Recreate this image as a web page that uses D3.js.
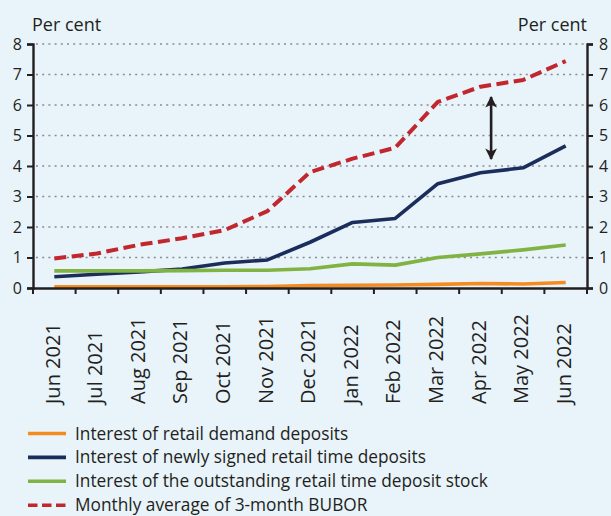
<!DOCTYPE html>
<html>
<head>
<meta charset="utf-8">
<script src="https://cdn.jsdelivr.net/npm/d3@7/dist/d3.min.js"></script>
<style>
  html, body { margin: 0; padding: 0; background: #e8f3fa; }
  svg { display: block; font-family: "Open Sans", sans-serif; }
</style>
</head>
<body>
<div id="chart"></div>
<script>
// months on the x axis
var months = ["Jun 2021", "Jul 2021", "Aug 2021", "Sep 2021", "Oct 2021", "Nov 2021",
  "Dec 2021", "Jan 2022", "Feb 2022", "Mar 2022", "Apr 2022", "May 2022", "Jun 2022"];

// series, per cent
var demandDeposits = [0.04, 0.04, 0.04, 0.04, 0.04, 0.05, 0.08, 0.09, 0.1, 0.12, 0.15, 0.13, 0.18];
var newTimeDeposits = [0.37, 0.45, 0.53, 0.62, 0.82, 0.92, 1.5, 2.15, 2.28, 3.42, 3.78, 3.94, 4.66];
var stockTimeDeposits = [0.56, 0.56, 0.56, 0.57, 0.58, 0.58, 0.63, 0.79, 0.75, 1.0, 1.12, 1.25, 1.41];
var bubor = [0.97, 1.13, 1.42, 1.63, 1.9, 2.52, 3.8, 4.24, 4.6, 6.1, 6.6, 6.82, 7.44];

var yTicks = [0, 1, 2, 3, 4, 5, 6, 7, 8];

var legendLabels = ["Interest of retail demand deposits",
  "Interest of newly signed retail time deposits",
  "Interest of the outstanding retail time deposit stock",
  "Monthly average of 3-month BUBOR"];

// double arrow showing the gap (April 2022)
var arrowMonth = "Apr 2022";
var arrowTop = 6.26;
var arrowBottom = 4.23;

drawChart();

function drawChart()
{
  var width = 611;
  var height = 516;
  var plotLeft = 33, plotRight = 587, plotTop = 44, plotBottom = 288;

  var colors = ["#f58a1f", "#1b2d5b", "#80b341", "#c1272d"];

  var svg = d3.select("#chart")
    .append("svg")
    .attr("width", width)
    .attr("height", height);

  var xScale = d3.scaleBand()
    .domain(months)
    .range([plotLeft, plotRight])
    .paddingInner(0)
    .paddingOuter(0);

  var yScale = d3.scaleLinear()
    .domain([0, 8])
    .range([plotBottom, plotTop]);

  // dotted gridlines
  svg.append("g")
    .selectAll("line")
    .data(yTicks.filter(function(d){ return d > 0; }))
    .enter()
    .append("line")
    .attr("x1", plotLeft + 3)
    .attr("x2", plotRight - 3)
    .attr("y1", function(d){ return yScale(d); })
    .attr("y2", function(d){ return yScale(d); })
    .attr("stroke", "#8a8d90")
    .attr("stroke-width", 1.6)
    .attr("stroke-dasharray", "2,4.2");

  // series lines
  var line = d3.line()
    .x(function(d, i){ return xScale(months[i]) + xScale.bandwidth() / 2; })
    .y(function(d){ return yScale(d); });

  var series = [demandDeposits, newTimeDeposits, stockTimeDeposits, bubor];

  series.forEach(function(s, i){
    var path = svg.append("path")
      .datum(s)
      .attr("d", line)
      .attr("fill", "none")
      .attr("stroke", colors[i])
      .attr("stroke-width", i == 3 ? 4 : 3.6)
      .attr("stroke-linejoin", "round");
    if(i == 3)
    {
      path.attr("stroke-dasharray", "12,5.5");
    }
  });

  // double arrow
  var ax = xScale(arrowMonth) + xScale.bandwidth() * 0.75;
  var defs = svg.append("defs");
  defs.append("marker")
    .attr("id", "head")
    .attr("viewBox", "0 0 10 10")
    .attr("refX", 9)
    .attr("refY", 5)
    .attr("markerWidth", 4.5)
    .attr("markerHeight", 4.5)
    .attr("orient", "auto-start-reverse")
    .append("path")
    .attr("d", "M0,0 L10,5 L0,10 L2.5,5 Z")
    .attr("fill", "#231f20");

  svg.append("line")
    .attr("x1", ax)
    .attr("x2", ax)
    .attr("y1", yScale(arrowTop))
    .attr("y2", yScale(arrowBottom))
    .attr("stroke", "#231f20")
    .attr("stroke-width", 2.6)
    .attr("marker-start", "url(#head)")
    .attr("marker-end", "url(#head)");

  // axes
  var yLeft = d3.axisLeft(yScale).tickValues(yTicks).tickSize(6).tickPadding(5);
  var yRight = d3.axisRight(yScale).tickValues(yTicks).tickSize(6).tickPadding(6);
  var xAxis = d3.axisBottom(xScale).tickSize(0).tickFormat("");

  svg.append("g")
    .attr("class", "y axis")
    .attr("transform", "translate(" + plotLeft + ",0)")
    .call(yLeft);

  svg.append("g")
    .attr("class", "y axis")
    .attr("transform", "translate(" + plotRight + ",0)")
    .call(yRight);

  var gx = svg.append("g")
    .attr("class", "x axis")
    .attr("transform", "translate(0," + plotBottom + ")")
    .call(xAxis);

  // band boundary ticks
  gx.selectAll(".sep")
    .data(months.concat(["end"]))
    .enter()
    .append("line")
    .attr("x1", function(d){ return d == "end" ? plotRight : xScale(d); })
    .attr("x2", function(d){ return d == "end" ? plotRight : xScale(d); })
    .attr("y1", 0)
    .attr("y2", 6)
    .attr("stroke", "#231f20")
    .attr("stroke-width", 2);

  svg.selectAll(".axis path.domain")
    .attr("stroke", "#231f20")
    .attr("stroke-width", 2.4);

  svg.selectAll(".axis .tick line")
    .attr("stroke", "#231f20")
    .attr("stroke-width", 2);

  svg.selectAll(".y.axis text")
    .attr("font-size", 16)
    .attr("fill", "#231f20")
    .style("font-family", "'Open Sans', sans-serif");

  // rotated month labels
  svg.append("g")
    .selectAll("text")
    .data(months)
    .enter()
    .append("text")
    .attr("transform", function(d){
      return "translate(" + (xScale(d) + xScale.bandwidth() / 2 - 2) + ",404) rotate(-90)";
    })
    .attr("dy", "0.36em")
    .attr("text-anchor", "start")
    .attr("font-size", 20)
    .attr("fill", "#231f20")
    .text(function(d){ return d; });

  // unit labels
  svg.append("text")
    .attr("x", plotLeft - 1)
    .attr("y", 31)
    .attr("font-size", 18)
    .attr("fill", "#231f20")
    .text("Per cent");

  svg.append("text")
    .attr("x", plotRight)
    .attr("y", 31)
    .attr("text-anchor", "end")
    .attr("font-size", 18)
    .attr("fill", "#231f20")
    .text("Per cent");

  // legend
  var legend = svg.append("g")
    .selectAll("g")
    .data(legendLabels)
    .enter()
    .append("g")
    .attr("transform", function(d, i){ return "translate(28," + (433.5 + i * 23.9) + ")"; });

  legend.append("line")
    .attr("x1", 0)
    .attr("x2", 38)
    .attr("stroke", function(d, i){ return colors[i]; })
    .attr("stroke-width", 3.6)
    .attr("stroke-dasharray", function(d, i){ return i == 3 ? "9.5,4.5" : null; });

  legend.append("text")
    .attr("x", 47)
    .attr("y", 6)
    .attr("font-size", 17.3)
    .attr("fill", "#231f20")
    .text(function(d){ return d; });
}
</script>
</body>
</html>
